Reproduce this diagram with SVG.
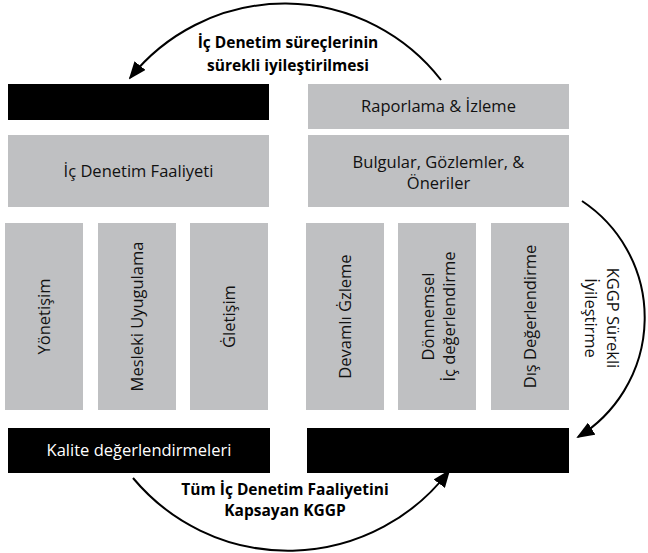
<svg xmlns="http://www.w3.org/2000/svg" width="648" height="553" viewBox="0 0 648 553">
<style>
.g{fill:#bfc0c2}
.b{fill:#000}
.t{font-family:"Open Sans","Liberation Sans",sans-serif;font-size:16.5px;fill:#111;text-anchor:middle}
.w{fill:#fff}
.bt{font-family:"Open Sans","Liberation Sans",sans-serif;font-size:15.5px;font-weight:bold;fill:#000;text-anchor:middle}
.c{fill:none;stroke:#000;stroke-width:2}
</style>
<defs>
<marker id="ah" markerUnits="userSpaceOnUse" markerWidth="18" markerHeight="14" refX="16" refY="7" orient="auto">
<path d="M0,0 L18,7 L0,14 z" fill="#000"/>
</marker>
</defs>
<g id="box-top-black"><rect class="b" x="8" y="84" width="261" height="36"/></g>
<g id="box-raporlama"><rect class="g" x="308" y="84" width="261" height="45"/><text class="t" x="438.5" y="112">Raporlama &amp; İzleme</text></g>
<g id="box-faaliyet"><rect class="g" x="8" y="135" width="261" height="72"/><text class="t" x="138.5" y="177">İç Denetim Faaliyeti</text></g>
<g id="box-bulgular"><rect class="g" x="308" y="135" width="261" height="72"/><text class="t" x="438.5" y="168">Bulgular, Gözlemler, &amp;</text><text class="t" x="438.5" y="189">Öneriler</text></g>
<g id="box-yonetisim"><rect class="g" x="5" y="223" width="78" height="187"/><text class="t" transform="translate(44,316.5) rotate(-90)" dy="0.35em">Yönetişim</text></g>
<g id="box-mesleki"><rect class="g" x="98" y="223" width="78" height="187"/><text class="t" transform="translate(137,316.5) rotate(-90)" dy="0.35em">Mesleki Uyugulama</text></g>
<g id="box-iletisim"><rect class="g" x="190" y="223" width="78" height="187"/><text class="t" transform="translate(229,316.5) rotate(-90)" dy="0.35em">Ġletişim</text></g>
<g id="box-devamli"><rect class="g" x="306" y="223" width="78" height="187"/><text class="t" transform="translate(345,316.5) rotate(-90)" dy="0.35em">Devamlı Ġzleme</text></g>
<g id="box-donemsel"><rect class="g" x="398" y="223" width="78" height="187"/><text class="t" transform="translate(428,316.5) rotate(-90)" dy="0.35em">Dönnemsel</text><text class="t" transform="translate(449,316.5) rotate(-90)" dy="0.35em">İç değerlendirme</text></g>
<g id="box-dis"><rect class="g" x="491" y="223" width="78" height="187"/><text class="t" transform="translate(530,316.5) rotate(-90)" dy="0.35em">Dış Değerlendirme</text></g>
<g id="box-kalite"><rect class="b" x="8" y="428" width="262" height="45"/><text class="t w" x="139" y="456">Kalite değerlendirmeleri</text></g>
<g id="box-bottom-black"><rect class="b" x="307" y="428" width="262" height="45"/></g>
<g id="connectors">
<path class="c" d="M441,80 A198,198 0 0 0 130,78" marker-end="url(#ah)"/>
<path class="c" d="M582,201 A140,140 0 0 1 578,437" marker-end="url(#ah)"/>
<path class="c" d="M133,478 A202,202 0 0 0 449,471" marker-end="url(#ah)"/>
</g>
<g id="labels">
<text class="bt" x="288" y="48">İç Denetim süreçlerinin</text>
<text class="bt" x="288" y="71">sürekli iyileştirilmesi</text>
<text class="t" transform="translate(613,318) rotate(90)" dy="0.35em">KGGP Sürekli</text>
<text class="t" transform="translate(591,318) rotate(90)" dy="0.35em">İyileştirme</text>
<text class="bt" x="285" y="495">Tüm İç Denetim Faaliyetini</text>
<text class="bt" x="285" y="516">Kapsayan KGGP</text>
</g>
</svg>
